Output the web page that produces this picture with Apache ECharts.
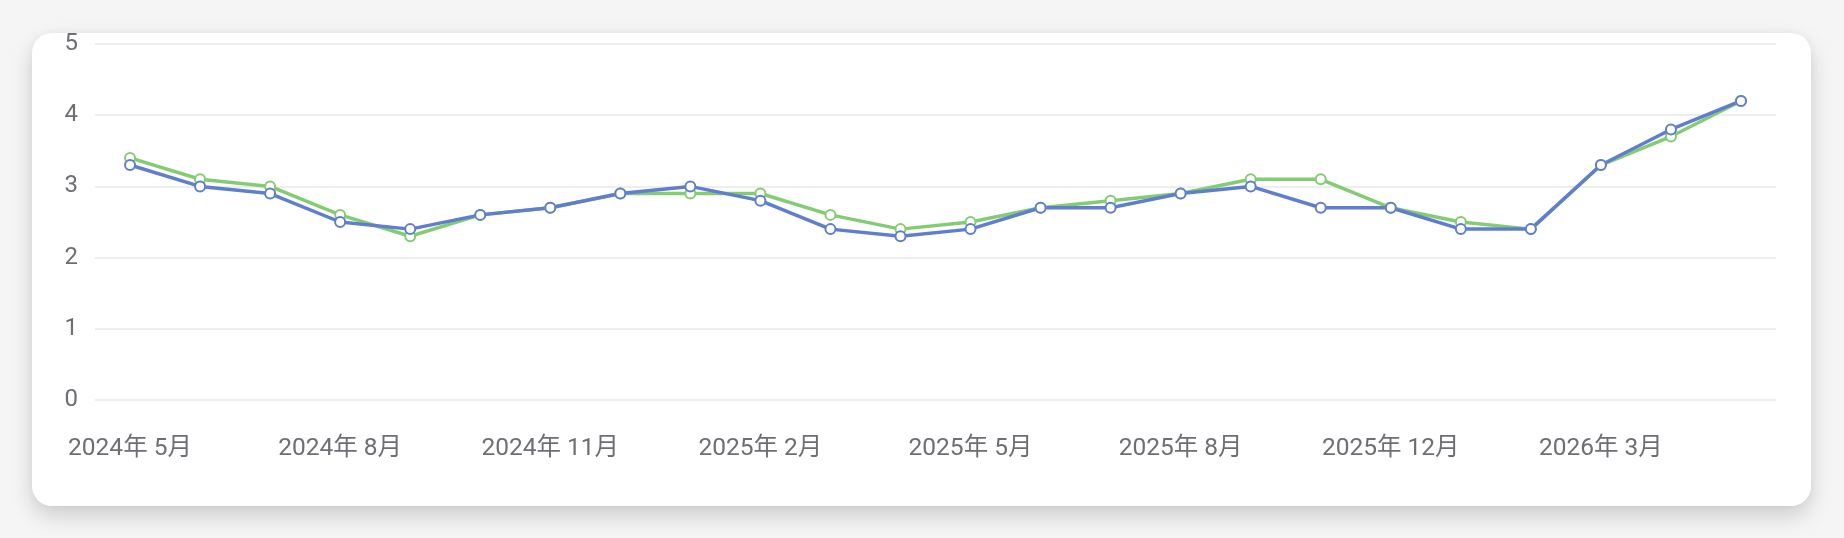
<!DOCTYPE html>
<html>
<head>
<meta charset="utf-8">
<script src="https://cdn.jsdelivr.net/npm/echarts@6/dist/echarts.min.js"></script>
<style>
  html, body { margin: 0; padding: 0; width: 1844px; height: 538px; background: #f5f5f5; overflow: hidden; }
  #card { position: absolute; left: 32px; top: 33px; width: 1779px; height: 473px; background: #ffffff; border-radius: 20px; box-shadow: 0 10px 22px rgba(0,0,0,0.16), 0 0 8px rgba(0,0,0,0.04); }
  #chart { position: absolute; left: 0; top: 0; width: 1844px; height: 538px; }
</style>
</head>
<body>
<div id="card"></div>
<div id="chart"></div>
<script>
const categories = [
  '2024年 5月','2024年 6月','2024年 7月','2024年 8月','2024年 9月','2024年 10月',
  '2024年 11月','2024年 12月','2025年 1月','2025年 2月','2025年 3月','2025年 4月',
  '2025年 5月','2025年 6月','2025年 7月','2025年 8月','2025年 9月','2025年 10月',
  '2025年 12月','2026年 1月','2026年 2月','2026年 3月','2026年 4月','2026年 5月'
];
const greenValues = [3.4,3.1,3.0,2.6,2.3,2.6,2.7,2.9,2.9,2.9,2.6,2.4,2.5,2.7,2.8,2.9,3.1,3.1,2.7,2.5,2.4,3.3,3.7,4.2];
const blueValues  = [3.3,3.0,2.9,2.5,2.4,2.6,2.7,2.9,3.0,2.8,2.4,2.3,2.4,2.7,2.7,2.9,3.0,2.7,2.7,2.4,2.4,3.3,3.8,4.2];
const yTicks = [0,1,2,3,4,5];

const chart = echarts.init(document.getElementById('chart'), null, { renderer: 'canvas' });
const font = 'Roboto, "Noto Sans CJK SC", sans-serif';
chart.setOption({
  backgroundColor: 'transparent',
  animation: false,
  grid: { left: 95, right: 68, top: 44, bottom: 138, containLabel: false },
  xAxis: {
    type: 'category',
    data: categories,
    boundaryGap: true,
    axisLine: { show: false },
    axisTick: { show: false },
    axisLabel: { interval: 2, color: '#6e6e74', fontSize: 24.5, fontWeight: 400, fontFamily: font, margin: 37 }
  },
  yAxis: {
    type: 'value',
    min: yTicks[0],
    max: yTicks[yTicks.length - 1],
    interval: 1,
    axisLine: { show: false },
    axisTick: { show: false },
    axisLabel: { color: '#6e6e74', fontSize: 24, fontWeight: 400, fontFamily: font, margin: 17 },
    splitLine: { lineStyle: { color: '#e8e8e8', width: 1.5 } }
  },
  series: [
    {
      name: 'A', type: 'line', data: greenValues,
      symbol: 'emptyCircle', symbolSize: 10, showAllSymbol: true,
      itemStyle: { color: '#84cc72', borderWidth: 1.8 },
      lineStyle: { color: '#84cc72', width: 3.5 }
    },
    {
      name: 'B', type: 'line', data: blueValues,
      symbol: 'emptyCircle', symbolSize: 10, showAllSymbol: true,
      itemStyle: { color: '#5f7ecf', borderWidth: 1.8 },
      lineStyle: { color: '#5f7ecf', width: 3.5 }
    }
  ]
});
</script>
</body>
</html>
